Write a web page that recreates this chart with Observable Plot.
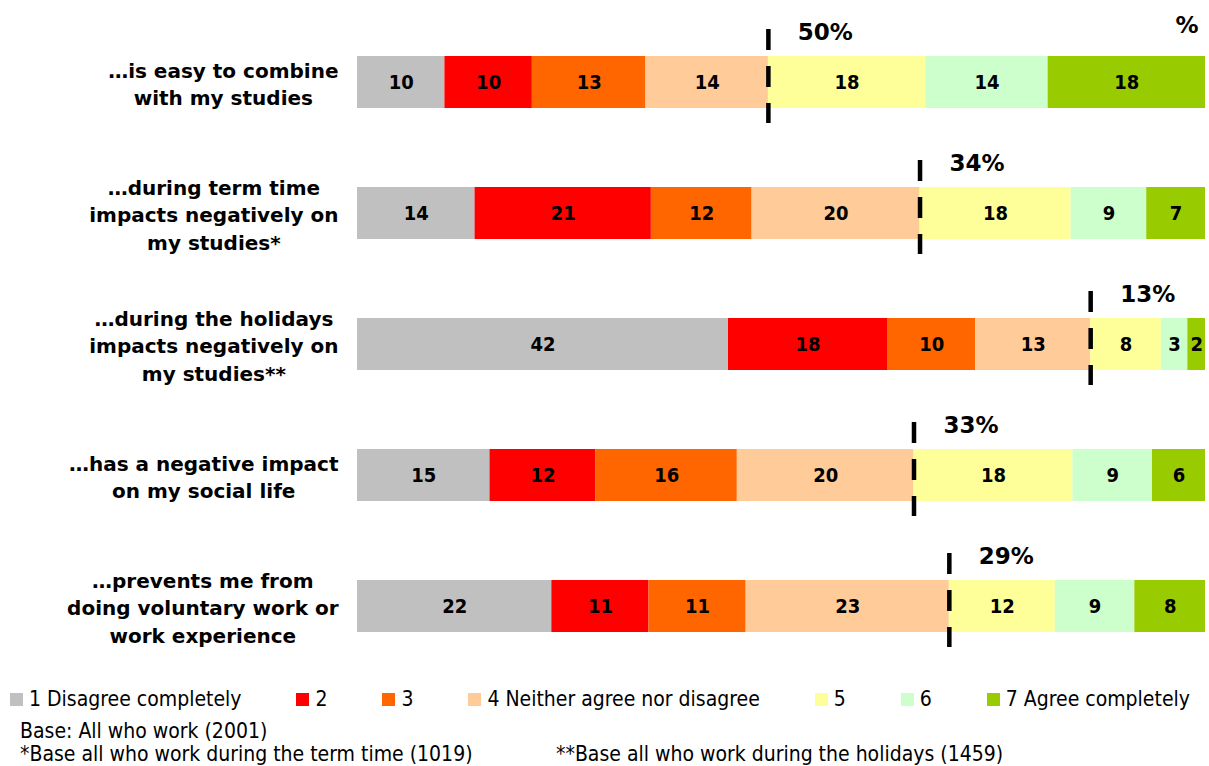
<!DOCTYPE html>
<html><head><meta charset="utf-8">
<script src="https://cdn.jsdelivr.net/npm/d3@7"></script>
<script src="https://cdn.jsdelivr.net/npm/@observablehq/plot@0.6"></script>
<style>
body{margin:0;background:#fff;font-family:"DejaVu Sans Condensed","DejaVu Sans",sans-serif;color:#000;}
#chart{width:1209px;}
.legend{display:flex;justify-content:space-between;width:1180px;margin-left:10px;font-size:21px;line-height:24px;padding-top:7px;}
.item{display:flex;align-items:center;white-space:nowrap}
.sw{width:13px;height:13px;margin-right:6px;display:inline-block}
.notes{margin-left:20px;margin-top:9px;font-size:21px;line-height:23px;white-space:nowrap}
.notes .c1{display:inline-block;width:536px}
</style></head><body><div id="chart"></div>
<script>
const statements = [
  "…is easy to combine\nwith my studies",
  "…during term time\nimpacts negatively on\nmy studies*",
  "…during the holidays\nimpacts negatively on\nmy studies**",
  "…has a negative impact\non my social life",
  "…prevents me from\ndoing voluntary work or\nwork experience"
];
const levels = ["1 Disagree completely","2","3","4 Neither agree nor disagree","5","6","7 Agree completely"];
const colors = ["#C0C0C0","#FF0000","#FF6600","#FFCC99","#FFFF99","#CCFFCC","#99CC00"];
const values = [
  [10,10,13,14,18,14,18],
  [14,21,12,20,18,9,7],
  [42,18,10,13,8,3,2],
  [15,12,16,20,18,9,6],
  [22,11,11,23,12,9,8]
];
const notes = [
  ["Base: All who work (2001)"],
  ["*Base all who work during the term time (1019)", "**Base all who work during the holidays (1459)"]
];

const data = statements.flatMap((s, i) => levels.map((l, j) => ({statement: s, level: l, value: values[i][j]})));
const divider = statements.map((s, i) => ({
  statement: s,
  pos: d3.sum(values[i].slice(0, 4)) / d3.sum(values[i]),
  agree: d3.sum(values[i].slice(4))
}));

const cond = '"DejaVu Sans Condensed","DejaVu Sans",sans-serif';
const wide = '"DejaVu Sans",sans-serif';
const chart = Plot.plot({
  width: 1209, height: 680,
  marginLeft: 357, marginRight: 4, marginTop: 30, marginBottom: 21,
  style: {fontFamily: cond, background: "#fff", color: "#000"},
  x: {domain: [0, 1], axis: null},
  y: {domain: statements, paddingInner: 0.6, paddingOuter: 0.2, axis: null},
  color: {domain: levels, range: colors},
  marks: [
    Plot.barX(data, Plot.stackX({x: "value", y: "statement", fill: "level", offset: "normalize"})),
    Plot.text(data, Plot.stackX({x: "value", y: "statement", z: "level", offset: "normalize",
      text: d => String(d.value), fontSize: 20, fontWeight: "bold", fill: "#000"})),
    Plot.tickX(divider, {x: "pos", y: "statement", stroke: "#000", strokeWidth: 4.5,
      strokeDasharray: "21,16", insetTop: -27, insetBottom: -15}),
    Plot.text(divider, {x: "pos", y: "statement", text: d => d.agree + "%", dx: 57, dy: -50,
      fontSize: 23, fontWeight: "bold", fill: "#000", fontFamily: wide}),
    Plot.text(["%"], {frameAnchor: "top-right", dx: -7, dy: -5, lineAnchor: "middle",
      fontSize: 23, fontWeight: "bold", fill: "#000", fontFamily: wide}),
    Plot.axisY({tickSize: 0, tickPadding: 19, fontSize: 20, fontWeight: "bold", lineHeight: 1.37,
      fill: "#000", label: null, fontFamily: wide})
  ]
});
const root = document.getElementById("chart");
root.appendChild(chart);

// center lines of each label within a right-aligned block
chart.querySelectorAll('g[aria-label="y-axis tick label"] text').forEach(t => {
  const spans = [...t.querySelectorAll("tspan")];
  const els = spans.length ? spans : [t];
  const w = d3.max(els, e => e.getComputedTextLength());
  t.setAttribute("text-anchor", "middle");
  els.forEach(e => e.setAttribute("x", -w / 2));
});

const legend = document.createElement("div");
legend.className = "legend";
levels.forEach((l, i) => {
  const it = document.createElement("div");
  it.className = "item";
  const sw = document.createElement("span");
  sw.className = "sw";
  sw.style.background = colors[i];
  it.appendChild(sw);
  it.appendChild(document.createTextNode(l));
  legend.appendChild(it);
});
root.appendChild(legend);

const nd = document.createElement("div");
nd.className = "notes";
notes.forEach(line => {
  const ld = document.createElement("div");
  line.forEach((txt, k) => {
    const s = document.createElement("span");
    if (k === 0 && line.length > 1) s.className = "c1";
    s.textContent = txt;
    ld.appendChild(s);
  });
  nd.appendChild(ld);
});
root.appendChild(nd);
</script>
</body></html>
